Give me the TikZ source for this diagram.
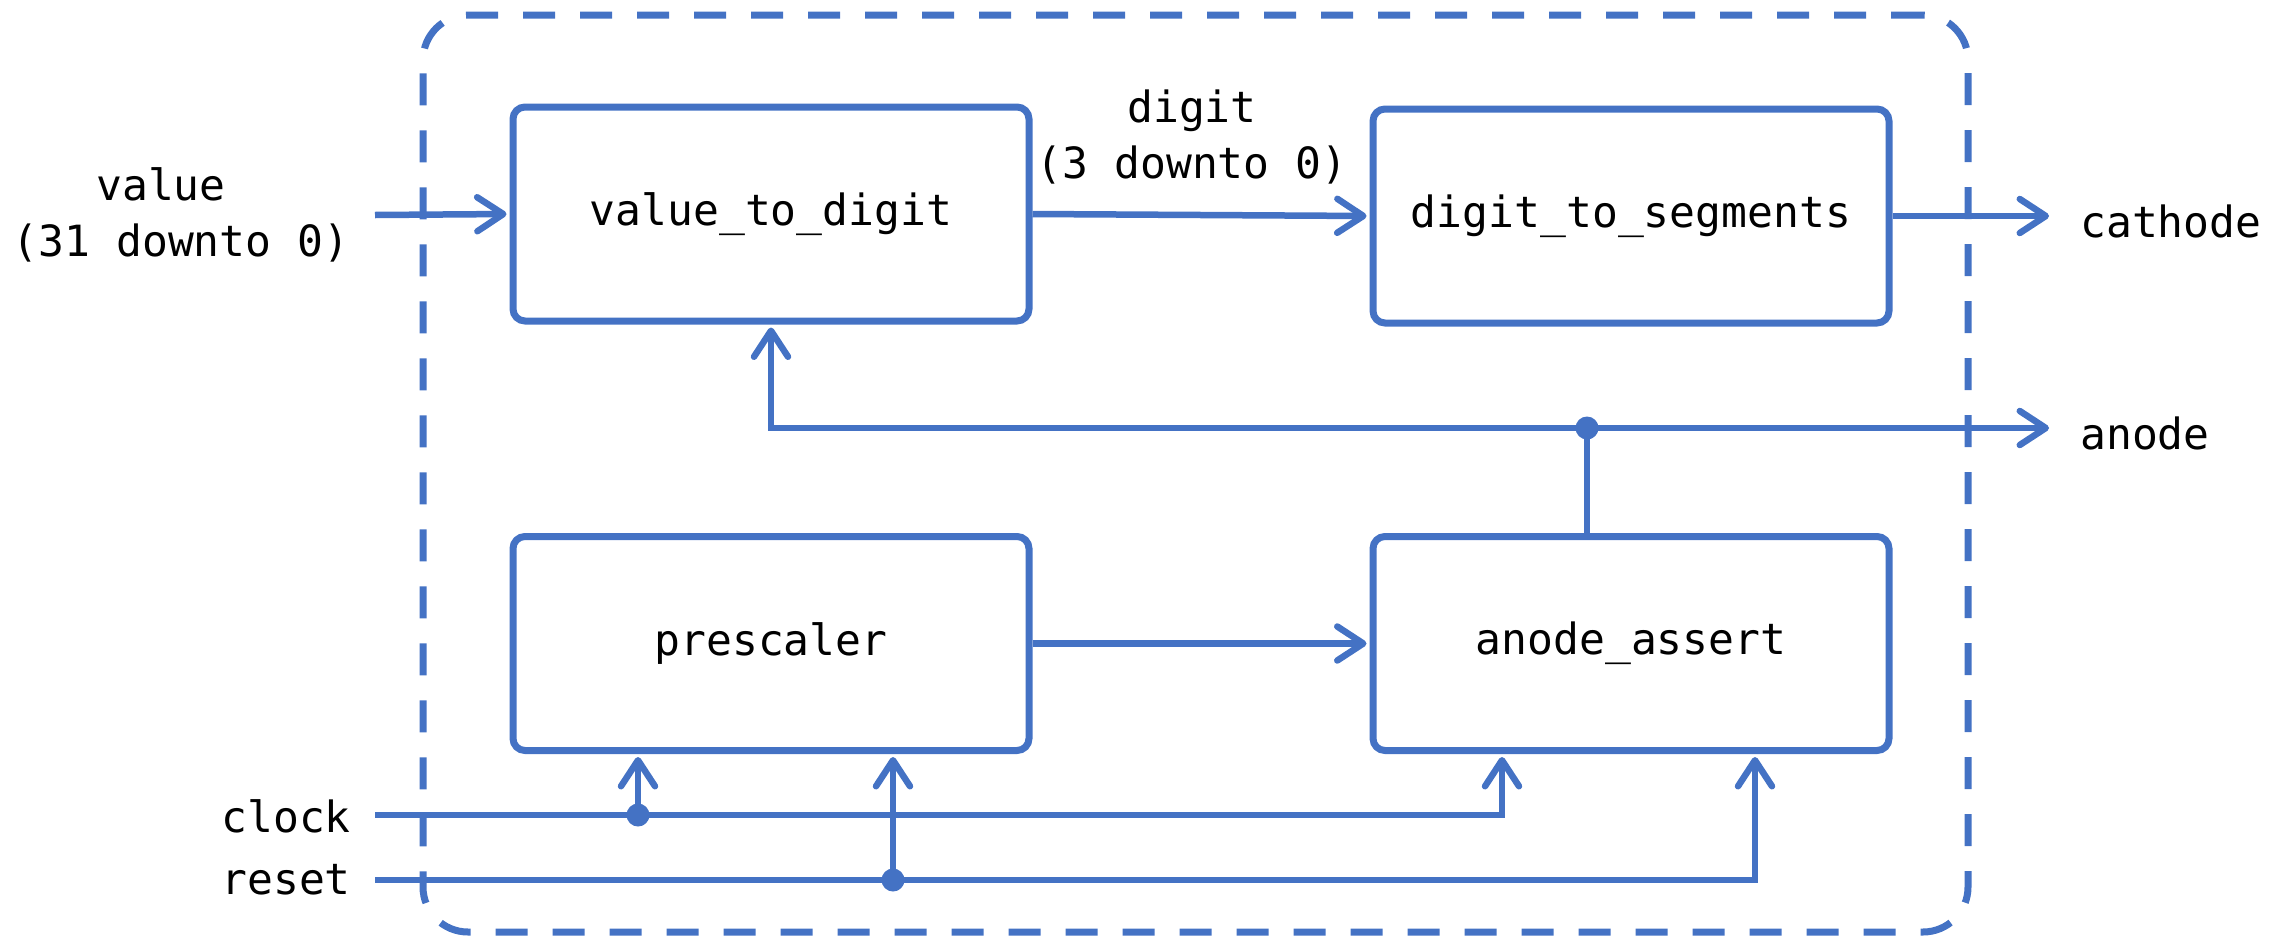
\documentclass[tikz,border=0pt]{standalone}
\usepackage{fontspec}
\setmonofont{DejaVu Sans Mono}
\usetikzlibrary{arrows.meta}
\definecolor{ublue}{HTML}{4472C4}
\begin{document}
\begin{tikzpicture}[x=1pt,y=-1pt,
  blk/.style={draw=ublue, line width=7pt, rounded corners=12pt, minimum width=516pt, minimum height=214pt, inner sep=0pt, font=\ttfamily\fontsize{43}{56}\selectfont},
  frame/.style={draw=ublue, line width=7pt, rounded corners=45pt, dash pattern=on 32pt off 25pt, minimum width=1545pt, minimum height=917pt, inner sep=0pt},
  wire/.style={draw=ublue, line width=6.5pt},
  arr/.style={wire, shorten >=3pt, -{Straight Barb[length=26pt,width=34pt,round]}},
  jdot/.style={circle, fill=ublue, inner sep=0pt, minimum size=23pt},
  lbl/.style={font=\ttfamily\fontsize{43}{56}\selectfont, align=center, inner sep=0pt}]
\useasboundingbox (0,0) rectangle (2285,937);
\node[frame] (fr) at (1195.5,473.5) {};
\node[blk] (v2d) at (771,214) {value\_to\_digit};
\node[blk] (d2s) at (1631,216) {digit\_to\_segments};
\node[blk] (ps) at (771,643.5) {prescaler};
\node[blk] (aa) at (1631,643.5) {anode\_assert};
% labels
\node[lbl] (lval) at (181,215) {value\kern40pt\\(31 downto 0)};
\node[lbl] (ldig) at (1192,137) {digit\\(3 downto 0)};
\node[lbl, anchor=west] (lcat) at (2080,221) {cathode};
\node[lbl, anchor=west] (lan) at (2080,433) {anode};
\node[lbl, anchor=east] (lclk) at (351,816) {clock};
\node[lbl, anchor=east] (lrst) at (351,880) {reset};
% coordinates
\coordinate (vin) at (375,215);
\coordinate (cout) at (2052,218);
\coordinate (aout) at (2052,428);
\coordinate (adot) at (1587,428);
\coordinate (clkin) at (375,815);
\coordinate (cdot) at (638,815);
\coordinate (clkx) at (1502,815);
\coordinate (rstin) at (375,880);
\coordinate (rdot) at (893,880);
\coordinate (rstx) at (1755,880);
% wires
\draw[arr] (vin) -- (v2d.west);
\draw[arr] (v2d.east) -- (d2s.west);
\draw[arr] (d2s.east) -- (d2s.east -| cout);
\draw[wire] (aa.north -| adot) -- (adot);
\draw[arr] (adot) -| (v2d.south);
\draw[arr] (adot) -- (aout);
\draw[arr] (ps.east) -- (aa.west);
\draw[arr] (clkin) -- (clkx) -- (clkx |- aa.south);
\draw[arr] (cdot) -- (cdot |- ps.south);
\draw[arr] (rstin) -- (rstx) -- (rstx |- aa.south);
\draw[arr] (rdot) -- (rdot |- ps.south);
\node[jdot] (ad) at (adot) {};
\node[jdot] (cd) at (cdot) {};
\node[jdot] (rd) at (rdot) {};
\end{tikzpicture}
\end{document}
